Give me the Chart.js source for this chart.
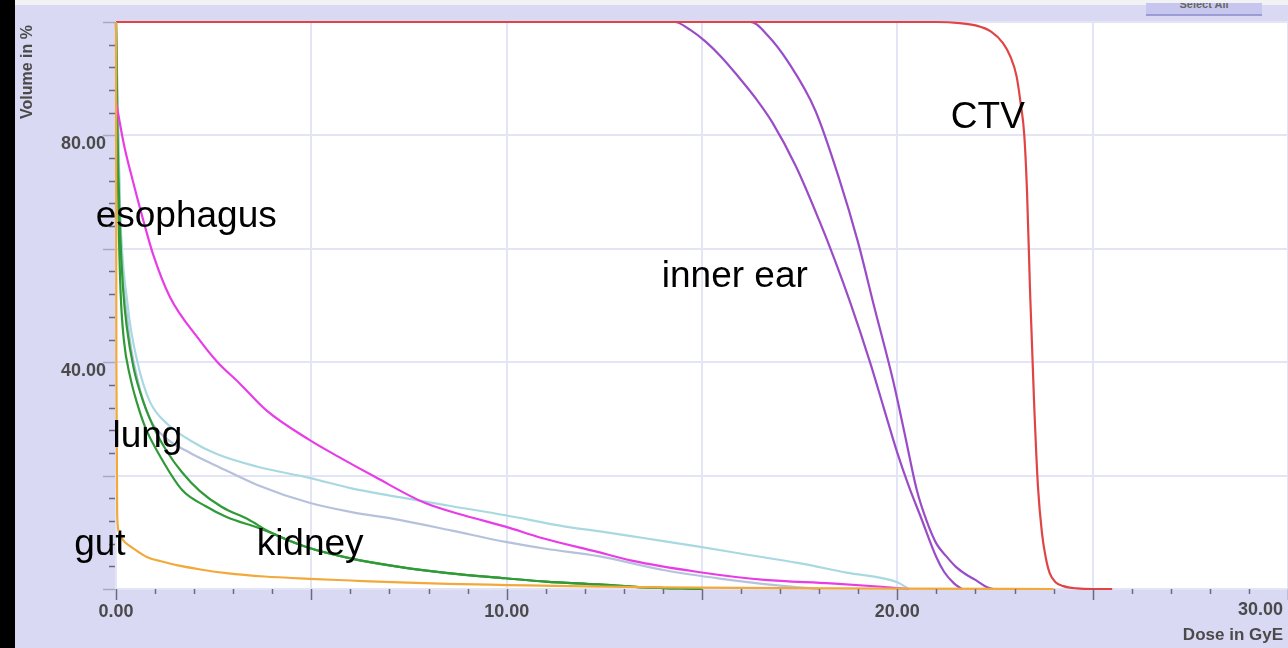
<!DOCTYPE html>
<html>
<head>
<meta charset="utf-8">
<script src="https://cdn.jsdelivr.net/npm/chart.js@4.4.1/dist/chart.umd.min.js"></script>
<style>
  html, body { margin: 0; padding: 0; width: 1288px; height: 648px; overflow: hidden; background: #d9d9f4; }
  #wrap { position: absolute; left: 0; top: 0; width: 1300px; height: 648px; }
  #blackStrip { position: absolute; left: 0; top: 0; width: 15px; height: 648px; background: #000; z-index: 5; }
  #topStrip { position: absolute; left: 0; top: 0; width: 1288px; height: 5px; background: #f2f2f4; z-index: 4; }
  #btn { position: absolute; left: 1146px; top: 3px; width: 116px; height: 11px; background: #c6c6ee; border-bottom: 2px solid #9c9cd4; z-index: 6; overflow: hidden; font: bold 11px "Liberation Sans", Arial, sans-serif; color: #666; text-align: center; line-height: 3px; }
</style>
</head>
<body>
<div id="wrap"><canvas id="c"></canvas></div>
<div id="topStrip"></div>
<div id="btn">Select All</div>
<div id="blackStrip"></div>
<script>
// ---- data (dose in GyE, volume in %) ----
const gutDose = [0, 0.01, 0.03, 0.08, 0.18, 0.35, 0.54, 0.8, 1.2, 1.55, 2.2, 2.83, 3.8, 4.95, 6, 7.07, 8.5, 10, 12, 14, 17, 20, 24];
const gutVol  = [100, 40, 13, 10, 8.6, 7.6, 6.7, 5.6, 4.8, 4.2, 3.4, 2.8, 2.2, 1.8, 1.5, 1.2, 0.9, 0.7, 0.45, 0.3, 0.15, 0.05, 0];

const ctvDose = [0, 21.0, 21.6, 22.0, 22.4, 22.7, 22.9, 23.05, 23.15, 23.25, 23.32, 23.4, 23.5, 23.6, 23.7, 23.8, 23.9, 24.05, 24.25, 24.6, 25.0, 25.5];
const ctvVol  = [100, 100, 99.8, 99.4, 98.3, 96.3, 93.8, 90.5, 86, 80, 70, 52, 33, 18, 10, 5.5, 2.8, 1.2, 0.5, 0.1, 0, 0];

const ear1Dose = [0, 14.3, 14.7, 15.1, 15.5, 15.9, 16.4, 16.8, 17.4, 18.0, 18.4, 18.8, 19.3, 19.65, 20.0, 20.3, 20.6, 21.0, 21.2, 21.45, 21.65];
const ear1Vol  = [100, 100, 98.6, 96.5, 93.8, 90.6, 86.3, 82.3, 74.6, 65, 58, 50.4, 40, 32, 24, 18, 12.7, 5.6, 3, 1, 0];

const ear2Dose = [0, 16.25, 16.7, 17.2, 17.9, 18.5, 19.0, 19.4, 19.9, 20.2, 20.5, 20.75, 21.0, 21.25, 21.5, 21.75, 22.0, 22.3, 22.45];
const ear2Vol  = [100, 100, 97.5, 93, 84.4, 72.6, 61, 50, 36.5, 27, 17.4, 12, 8, 5.8, 3.9, 2.6, 1.6, 0.3, 0];

const esoDose = [0, 0.2, 0.43, 0.7, 0.95, 1.38, 2.14, 2.6, 3.16, 3.85, 4.95, 5.7, 6.65, 7.9, 8.9, 9.97, 10.9, 12.35, 13.2, 14.9, 16.6, 18.3, 19.6, 20.3];
const esoVol  = [86, 78.5, 72, 65, 59, 51.5, 43.9, 40, 36.3, 31.5, 26.3, 23.3, 19.7, 15.2, 13, 11, 9, 6.5, 5, 3, 1.6, 1, 0.4, 0];

const lung1Dose = [0, 0.1, 0.3, 0.55, 0.87, 1.3, 1.9, 2.58, 3.6, 4.95, 6, 7.25, 8.6, 9.97, 11.5, 12.35, 13.5, 15, 16.2, 17.45, 18.7, 20, 20.3];
const lung1Vol  = [100, 68, 50, 40, 33, 29.2, 26.2, 23.8, 21.6, 19.6, 17.8, 16.2, 14.6, 13, 11, 10.2, 9, 7.4, 6, 4.6, 2.9, 1.2, 0];

const lung2Dose = [0, 0.1, 0.3, 0.55, 0.87, 1.28, 1.9, 2.58, 3.6, 4.95, 6, 7.25, 8.6, 9.97, 11, 12.35, 14.05, 15.5, 17, 18];
const lung2Vol  = [100, 66, 47, 37, 30, 26.6, 24, 21.7, 18.4, 15.2, 13.6, 12.2, 10.3, 8.3, 7.1, 5.8, 3.3, 1.8, 0.6, 0];

const kid1Dose = [0, 0.04, 0.1, 0.18, 0.28, 0.45, 0.7, 1.0, 1.3, 1.7, 2.14, 2.7, 3.4, 3.9, 4.87, 6, 7.25, 8.5, 9.97, 11, 12.35, 13.5, 15];
const kid1Vol  = [100, 80, 64, 53, 46, 39, 33, 28, 24.3, 20.5, 17.3, 14.5, 12.2, 10.2, 7.4, 5.4, 3.9, 2.8, 1.9, 1.3, 0.8, 0.3, 0];

const kid2Dose = [0, 0.03, 0.07, 0.12, 0.2, 0.36, 0.53, 0.75, 1.04, 1.7, 2.3, 2.83, 3.67, 4.87, 6, 7.25, 8.5, 9.97, 11, 12.35, 13.5, 15];
const kid2Vol  = [100, 80, 64, 52, 44, 37.5, 33, 28.5, 24.5, 17.4, 14.6, 12.7, 10.7, 7.4, 5.4, 3.9, 2.8, 1.9, 1.3, 0.8, 0.3, 0];

// text labels on the plot (anchored in data coordinates)
const labelTexts = ["CTV", "inner ear", "esophagus", "lung", "gut", "kidney"];
const labelDose  = [21.37, 13.97, -0.52, -0.09, -1.07, 3.6];
const labelVol   = [81.3, 53.3, 63.8, 25.0, 6.0, 6.0];

// axis tick labels
const xLabelValues = [0, 10, 20, 30];
const yLabelValues = [40, 80];
const xTitle = "Dose in GyE";
const yTitle = "Volume in %";

function pts(d, v) { return d.map((x, i) => ({ x: x, y: v[i] })); }

const series = [
  { label: "gut", d: gutDose, v: gutVol, color: "#f2a93a" },
  { label: "CTV", d: ctvDose, v: ctvVol, color: "#e04545" },
  { label: "esophagus", d: esoDose, v: esoVol, color: "#e83ce6" },
  { label: "kidney 1", d: kid1Dose, v: kid1Vol, color: "#2f9a36" },
  { label: "kidney 2", d: kid2Dose, v: kid2Vol, color: "#2f9a36" },
  { label: "inner ear 1", d: ear1Dose, v: ear1Vol, color: "#9a4cc8" },
  { label: "inner ear 2", d: ear2Dose, v: ear2Vol, color: "#9a4cc8" },
  { label: "lung 1", d: lung1Dose, v: lung1Vol, color: "#a9d9e0" },
  { label: "lung 2", d: lung2Dose, v: lung2Vol, color: "#b6c1dc" }
];

const GRID = "#e4e4f7";
const TICKFONT = { family: '"Liberation Sans", Arial, sans-serif', size: 18, weight: 'bold' };

const decor = {
  id: 'decor',
  beforeDraw(chart) {
    const { ctx, chartArea: a } = chart;
    ctx.save();
    ctx.fillStyle = '#ffffff';
    ctx.fillRect(a.left, a.top, a.right - a.left, a.bottom - a.top);
    ctx.restore();
  },
  afterDraw(chart) {
    const { ctx, chartArea: a } = chart;
    const xs = chart.scales.x, ys = chart.scales.y;
    ctx.save();
    // tick marks
    ctx.strokeStyle = '#6a6a80';
    ctx.lineWidth = 1.5;
    xs.ticks.forEach(t => {
      const px = Math.round(xs.getPixelForValue(t.value)) + 0.5;
      const len = (t.value % 5 === 0) ? 11 : 5;
      ctx.beginPath(); ctx.moveTo(px, a.bottom); ctx.lineTo(px, a.bottom + len); ctx.stroke();
    });
    ys.ticks.forEach(t => {
      const py = Math.round(ys.getPixelForValue(t.value)) + 0.5;
      const major = t.value % 20 === 0;
      ctx.strokeStyle = major ? '#a8a8c8' : '#6a6a80';
      const len = major ? 13 : 7;
      ctx.beginPath(); ctx.moveTo(a.left - len, py); ctx.lineTo(a.left - 1, py); ctx.stroke();
    });
    // last x label, kept inside the page
    ctx.fillStyle = '#4a4a4a';
    ctx.font = 'bold 18px "Liberation Sans", Arial, sans-serif';
    ctx.textBaseline = 'top';
    ctx.textAlign = 'left';
    const last = xLabelValues[xLabelValues.length - 1];
    ctx.fillText(last.toFixed(2), xs.getPixelForValue(last) - 50, a.bottom + 12);
    // axis titles
    ctx.font = 'bold 17px "Liberation Sans", Arial, sans-serif';
    ctx.textBaseline = 'alphabetic';
    ctx.textAlign = 'right';
    ctx.fillText(xTitle, 1283, 640);
    ctx.save();
    ctx.translate(32, a.top + 3);
    ctx.rotate(-Math.PI / 2);
    ctx.font = 'bold 16px "Liberation Sans", Arial, sans-serif';
    ctx.textAlign = 'right';
    ctx.textBaseline = 'alphabetic';
    ctx.fillText(yTitle, 0, 0);
    ctx.restore();
    // plot annotations
    ctx.fillStyle = '#000';
    ctx.font = '37px "Liberation Sans", Arial, sans-serif';
    ctx.textAlign = 'left';
    ctx.textBaseline = 'alphabetic';
    labelTexts.forEach((s, i) => {
      ctx.fillText(s, xs.getPixelForValue(labelDose[i]), ys.getPixelForValue(labelVol[i]));
    });
    ctx.restore();
  }
};

new Chart(document.getElementById('c'), {
  type: 'line',
  data: {
    datasets: series.map(s => ({
      label: s.label,
      data: pts(s.d, s.v),
      borderColor: s.color,
      borderWidth: 2.2,
      pointRadius: 0,
      fill: false,
      cubicInterpolationMode: 'monotone',
      clip: 4
    }))
  },
  options: {
    responsive: true,
    maintainAspectRatio: false,
    animation: false,
    events: [],
    layout: { padding: { left: 0, top: 22, right: 8, bottom: 0 } },
    plugins: { legend: { display: false }, tooltip: { enabled: false } },
    scales: {
      x: {
        type: 'linear', min: 0, max: 30,
        afterFit: s => { s.height = 59; },
        border: { display: false },
        grid: {
          drawTicks: false,
          lineWidth: 2,
          color: c => (c.tick && c.tick.value % 5 === 0) ? GRID : 'rgba(0,0,0,0)'
        },
        ticks: {
          stepSize: 1, autoSkip: false, maxRotation: 0, padding: 12,
          color: '#4a4a4a', font: TICKFONT,
          callback: v => (xLabelValues.includes(v) && v !== xLabelValues[xLabelValues.length - 1]) ? v.toFixed(2) : ''
        }
      },
      y: {
        type: 'linear', min: 0, max: 100,
        afterFit: s => { s.width = 116; },
        border: { display: false },
        grid: {
          drawTicks: false,
          lineWidth: 2,
          color: c => (c.tick && c.tick.value % 20 === 0) ? GRID : 'rgba(0,0,0,0)'
        },
        ticks: {
          stepSize: 4, autoSkip: false, padding: 10, labelOffset: 9,
          color: '#4a4a4a', font: TICKFONT,
          callback: v => yLabelValues.includes(v) ? v.toFixed(2) : ''
        }
      }
    }
  },
  plugins: [decor]
});
</script>
</body>
</html>
